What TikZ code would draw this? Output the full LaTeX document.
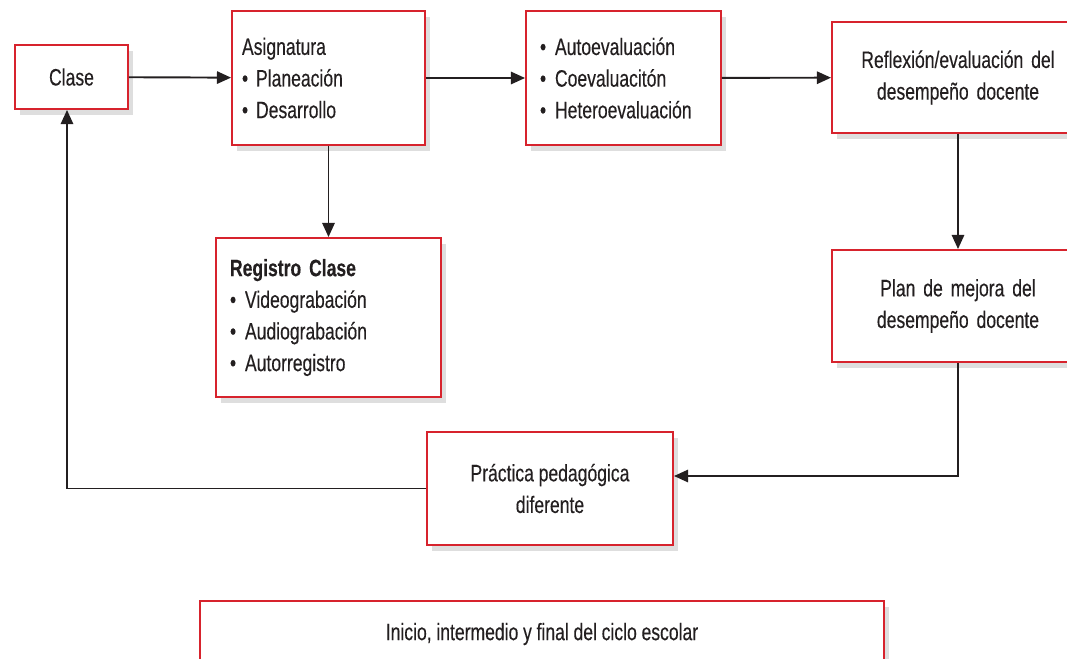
\documentclass[tikz,border=0pt]{standalone}
\usepackage{fontspec}
\setmainfont{Liberation Sans}[FakeStretch=0.74, FakeBold=0.25]
\usepackage{xcolor}
\usetikzlibrary{arrows.meta, positioning, shadows}

\definecolor{boxred}{RGB}{215,35,45}
\definecolor{inktext}{RGB}{35,31,32}
\newcommand{\itm}{\makebox[0.3cm][l]{\textbullet}}
\newcommand{\boxfont}{\fontsize{13.5}{18}\selectfont\spaceskip=0.2em plus 0.05em\relax}

\begin{document}
\begin{tikzpicture}[
  font=\boxfont, text=inktext,
  stage/.style={rectangle, draw=boxred, line width=1.1pt, fill=white,
    drop shadow={shadow xshift=0.1cm, shadow yshift=-0.12cm, fill=black, opacity=0.13},
    align=center, inner sep=0pt},
  listbox/.style={stage, align=left, text width=#1},
  arrow/.style={-{Triangle[length=8pt,width=7pt]}, line width=1.1pt, draw=inktext}
]
  \clip (0,0) rectangle (21.34,-13.16);
  \fill[white] (0,0) rectangle (21.34,-13.16);

  \node[stage, minimum width=2.26cm, minimum height=1.28cm] (clase) at (1.43,-1.54) {Clase};
  \node[listbox=3.46cm, minimum width=3.86cm, minimum height=2.68cm] (asig) at (6.57,-1.56)
    {Asignatura\\\textbullet\ Planeación\\\textbullet\ Desarrollo};
  \node[listbox=3.34cm, minimum width=3.90cm, minimum height=2.68cm] (eval) at (12.47,-1.56)
    {\itm Autoevaluación\\\itm Coevaluacitón\\\itm Heteroevaluación};
  \node[stage, minimum width=5.04cm, minimum height=2.22cm, text width=4.6cm] (refl) at (19.16,-1.55)
    {Reflexión/evaluación del\\desempeño docente};
  \node[listbox=3.94cm, minimum width=4.5cm, minimum height=3.18cm] (reg) at (6.57,-6.35)
    {\textbf{Registro Clase}\\\itm Videograbación\\\itm Audiograbación\\\itm Autorregistro};
  \node[stage, minimum width=5.04cm, minimum height=2.24cm, text width=4.6cm] (plan) at (19.16,-6.12)
    {Plan de mejora del\\desempeño docente};
  \node[stage, minimum width=4.92cm, minimum height=2.26cm] (prac) at (11.0,-9.77)
    {Práctica pedagógica\\diferente};
  \node[stage, minimum width=13.68cm, minimum height=1.32cm] (ciclo) at (10.84,-12.68)
    {Inicio, intermedio y final del ciclo escolar};

  \draw[arrow] (clase) -- (asig);
  \draw[arrow] (asig) -- (eval);
  \draw[arrow] (eval) -- (refl);
  \draw[arrow] (refl) -- (plan);
  \draw[arrow] (asig) -- (reg);
  \draw[arrow] (plan.south) |- ([yshift=0.25cm]prac.east);
  \draw[arrow] (prac.west) -| ([xshift=-0.09cm]clase.south);
\end{tikzpicture}
\end{document}
